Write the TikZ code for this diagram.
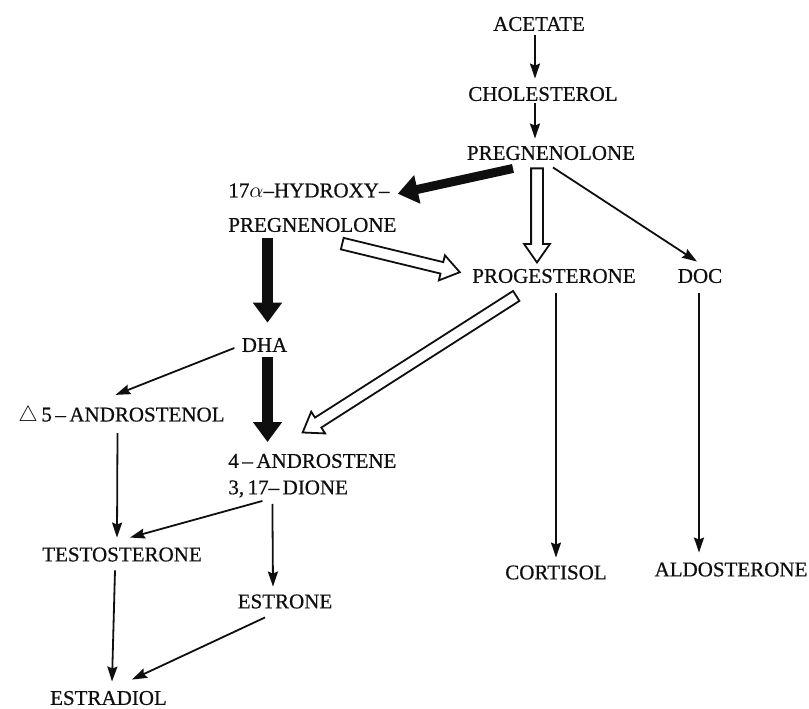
\documentclass[tikz,border=0pt]{standalone}
\usepackage{amsmath}
\usepackage{amssymb}
\usepackage{fontspec}
\setmainfont{Liberation Serif}[UprightFeatures={FakeBold=0.6}]
\usepackage{tikz}
\usetikzlibrary{arrows.meta,positioning,calc,shapes.arrows}
\definecolor{ink}{RGB}{15,15,15}

\newcommand{\openarrow}[2]{%
  \path let \p1=(#1), \p2=(#2), \n1={veclen(\x2-\x1,\y2-\y1)} in
    (\p1) -- (\p2) node[hollow,pos=0,anchor=tail,sloped,allow upside down,minimum height=\n1] {};}

\begin{document}
\begin{tikzpicture}[x=0.5pt,y=-0.5pt,
    chem/.style={font=\fontsize{10.5}{12.6}\selectfont,text=ink,inner sep=1.5pt},
    flow/.style={draw=ink,line width=0.9pt,-{Stealth[length=7.5pt,width=5pt,inset=1pt]}},
    heavy/.style={draw=ink,line width=5.5pt,-{Triangle[length=10pt,width=14pt]}},
    hollow/.style={single arrow,draw=ink,fill=white,line width=0.9pt,inner xsep=0pt,inner ysep=2.5pt,
      single arrow head extend=3.5pt,single arrow tip angle=70,single arrow head indent=0pt}]
  \useasboundingbox (0,0) rectangle (809,708);
  \foreach \nm/\x/\y/\lab in {acetate/539/24/ACETATE,chol/543/94/CHOLESTEROL,
      preg/551/153/PREGNENOLONE,prog/554/276/PROGESTERONE,doc/700/276/DOC,
      dha/264.5/345/DHA,testo/122/554.5/TESTOSTERONE,estrone/285/601.5/ESTRONE,
      estradiol/108.5/698/ESTRADIOL,cortisol/556/572.5/CORTISOL,aldo/731/569.5/ALDOSTERONE}
    \node[chem] (\nm) at (\x,\y) {\lab};
  \node[chem] (androl) at (121.5,416) {$\triangle$\,5\,--\,ANDROSTENOL};
  \node[chem,font=\fontsize{10.5}{17.25}\selectfont,align=left,anchor=north west] (hydroxy) at (225,180) {17$\alpha$--HYDROXY--\\PREGNENOLONE};
  \node[chem,font=\fontsize{10.5}{13.25}\selectfont,align=left,anchor=north west] (andro4) at (225,450.5) {4\,--\,ANDROSTENE\\3,\,17--\,DIONE};

  % from acetate down to pregnenolone
  \draw[flow] ([shift={(-2pt,-0.5pt)}]acetate.south) -- ([shift={(-4pt,2.5pt)}]chol.north);
  \draw[flow] ([shift={(-4pt,0.5pt)}]chol.south) -- ([shift={(-8pt,2pt)}]preg.north);
  \draw[heavy,line width=4.5pt] ([shift={(-19pt,-2.5pt)}]preg.south) -- ([shift={(-1pt,7pt)}]hydroxy.east);
  \openarrow{[shift={(-7pt,-2pt)}]preg.south}{[shift={(-8.5pt,2pt)}]prog.north}
  \openarrow{[shift={(14.5pt,-4pt)}]hydroxy.south}{[shift={(-5pt,2pt)}]prog.west}
  \draw[flow] ([shift={(1pt,-2pt)}]preg.south) -- ([shift={(-1.5pt,2pt)}]doc.north);
  \draw[flow] ([shift={(1pt,-3.5pt)}]prog.south) -- ([shift={(0pt,2.25pt)}]cortisol.north);
  \draw[flow] ([shift={(-0.5pt,-3.5pt)}]doc.south) -- ([shift={(-16pt,3.25pt)}]aldo.north);

  % androgens and estrogens
  \draw[heavy] ([shift={(1.5pt,-1.5pt)}]hydroxy.south -| dha.north) -- ([shift={(1.5pt,6pt)}]dha.north);
  \draw[heavy] ([shift={(1.5pt,-1pt)}]dha.south) -- ([shift={(1.5pt,4.25pt)}]dha.south |- andro4.north);
  \openarrow{[shift={(-18.5pt,-4.5pt)}]prog.south}{[shift={(-4.5pt,9.25pt)}]andro4.north}
  \draw[flow] ([shift={(-2pt,-1.5pt)}]dha.west) -- ([shift={(-3pt,4pt)}]androl.north);
  \draw[flow] ([shift={(-2pt,-2pt)}]androl.south) -- ([shift={(-2.5pt,3.25pt)}]testo.north);
  \draw[flow] ([shift={(-25pt,0pt)}]andro4.south) -- ([shift={(4pt,3.25pt)}]testo.north);
  \draw[flow] ([shift={(-20pt,-1.5pt)}]andro4.south) -- ([shift={(-6pt,2.25pt)}]estrone.north);
  \draw[flow] ([shift={(-3.5pt,-2.75pt)}]testo.south) -- ([shift={(1.75pt,3pt)}]estradiol.north);
  \draw[flow] ([shift={(-10pt,-2.75pt)}]estrone.south) -- ([shift={(11.75pt,4pt)}]estradiol.north);
\end{tikzpicture}
\end{document}
